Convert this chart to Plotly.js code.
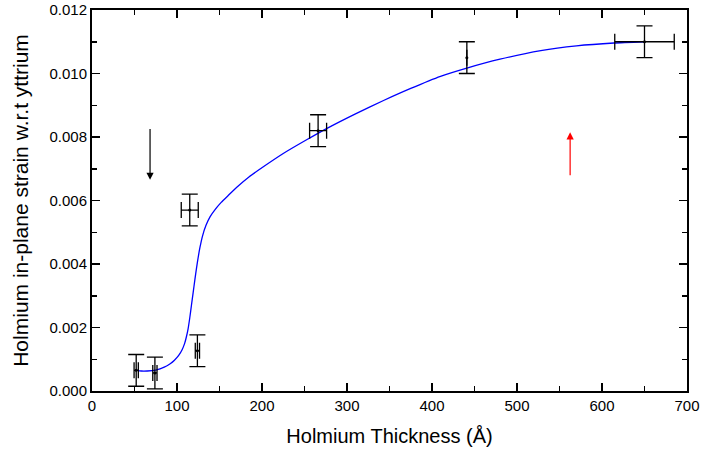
<!DOCTYPE html>
<html>
<head>
<meta charset="utf-8">
<script src="https://cdn.plot.ly/plotly-3.0.1.min.js"></script>
<style>html,body{margin:0;padding:0;background:#fff;}#chart{width:717px;height:454px;}</style>
</head>
<body>
<div id="chart"></div>
<script>
// Measured data points
const thickness = [52, 74, 124, 115, 266, 441, 650];
const strain = [0.00065, 0.00057, 0.00127, 0.0057, 0.0082, 0.0105, 0.0110];
const strainErr = [0.0005, 0.0005, 0.0005, 0.0005, 0.0005, 0.0005, 0.0005];
const thicknessErr = [2.5, 2.5, 2.5, 10, 10, 0, 35];

// Fitted curve
const fitX = [52, 58, 65, 75, 85, 92, 97, 102, 106, 109, 111, 113, 115, 117, 119, 121, 123, 125, 127, 130, 134, 139, 145, 152, 160, 170, 185, 202, 225, 253, 277, 310, 343, 375, 410, 441, 480, 528, 570, 614, 650];
const fitY = [0.00066, 0.00063, 0.00063, 0.00066, 0.00075, 0.00086, 0.00097, 0.00112, 0.0013, 0.0015, 0.0017, 0.00195, 0.0023, 0.0027, 0.0031, 0.0035, 0.00388, 0.00422, 0.00452, 0.00488, 0.00521, 0.00549, 0.00572, 0.00594, 0.00615, 0.00641, 0.00675, 0.00707, 0.00748, 0.00792, 0.00828, 0.00873, 0.00915, 0.00953, 0.00991, 0.01017, 0.01045, 0.01072, 0.01087, 0.01096, 0.0110];

// Arrows
const downArrowX = 68.3, downArrowFrom = 0.0083, downArrowTo = 0.00665;
const upArrowX = 562.5, upArrowFrom = 0.00675, upArrowTo = 0.00815;

const font = 'Liberation Sans, Arial, sans-serif';

const traces = [
  {
    x: fitX, y: fitY, type: 'scatter', mode: 'lines',
    line: {color: '#0000ff', width: 1.3, shape: 'spline', smoothing: 0.6},
    hoverinfo: 'skip'
  },
  {
    x: thickness, y: strain, type: 'scatter', mode: 'markers',
    marker: {color: '#000', size: 3},
    error_y: {type: 'data', array: strainErr, visible: true, color: '#000', thickness: 1.3, width: 8},
    error_x: {type: 'data', array: thicknessErr, visible: true, color: '#000', thickness: 1.3, width: 8}
  }
];

const layout = {
  width: 717, height: 454,
  margin: {l: 92, r: 30, t: 10, b: 63},
  paper_bgcolor: '#fff', plot_bgcolor: '#fff',
  showlegend: false,
  font: {family: font, color: '#000', size: 15},
  xaxis: {
    range: [0, 700], dtick: 100, tick0: 0,
    ticks: 'inside', ticklen: 8, tickwidth: 1.5, tickcolor: '#000',
    minor: {dtick: 50, ticks: 'inside', ticklen: 5, tickwidth: 1.5, tickcolor: '#000'},
    showline: true, linewidth: 2, linecolor: '#000', mirror: 'allticks',
    showgrid: false, zeroline: false,
    tickfont: {family: font, size: 15, color: '#000'},
    title: {text: 'Holmium Thickness (Å)', font: {family: font, size: 20, color: '#000'}, standoff: 16}
  },
  yaxis: {
    range: [0, 0.012], dtick: 0.002, tick0: 0, tickformat: '.3f',
    ticks: 'inside', ticklen: 8, tickwidth: 1.5, tickcolor: '#000',
    minor: {dtick: 0.001, ticks: 'inside', ticklen: 5, tickwidth: 1.5, tickcolor: '#000'},
    showline: true, linewidth: 2, linecolor: '#000', mirror: 'allticks',
    showgrid: false, zeroline: false,
    tickfont: {family: font, size: 15, color: '#000'},
    title: {text: 'Holmium in-plane strain w.r.t yttrium', font: {family: font, size: 21, color: '#000'}, standoff: 15}
  },
  annotations: [
    {x: downArrowX, y: downArrowTo, ax: downArrowX, ay: downArrowFrom, xref: 'x', yref: 'y', axref: 'x', ayref: 'y',
     showarrow: true, arrowhead: 2, arrowsize: 1.2, arrowwidth: 1.2, arrowcolor: '#000', text: ''},
    {x: upArrowX, y: upArrowTo, ax: upArrowX, ay: upArrowFrom, xref: 'x', yref: 'y', axref: 'x', ayref: 'y',
     showarrow: true, arrowhead: 2, arrowsize: 1.2, arrowwidth: 1.2, arrowcolor: '#ff0000', text: ''}
  ]
};

Plotly.newPlot('chart', traces, layout, {displayModeBar: false, staticPlot: true});
</script>
</body>
</html>
